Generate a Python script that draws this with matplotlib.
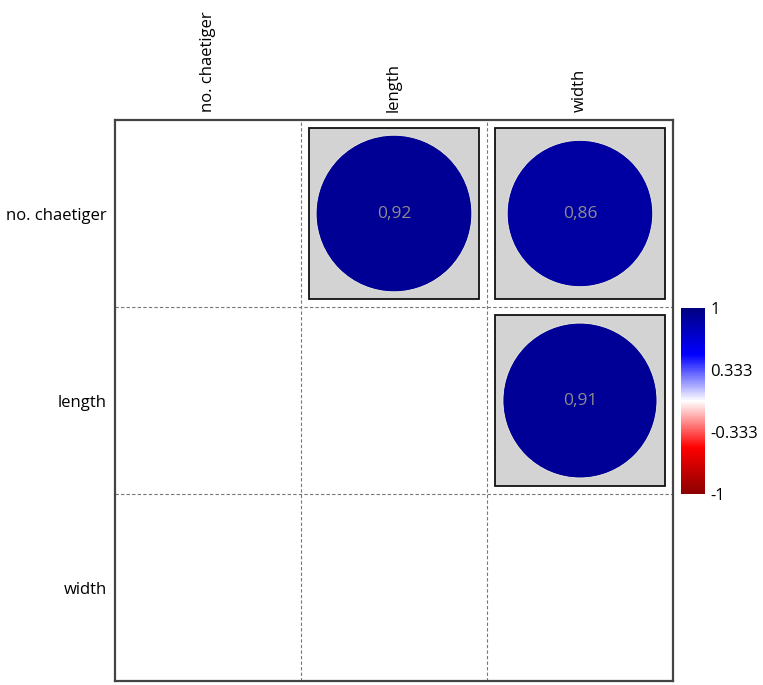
import numpy as np
import matplotlib.pyplot as plt
from matplotlib.colors import LinearSegmentedColormap, Normalize
from matplotlib.patches import Rectangle, Circle
from matplotlib.colorbar import ColorbarBase

plt.rcParams['font.family'] = ['Open Sans', 'DejaVu Sans']

# variables and correlations (upper triangle only)
variables = ['no. chaetiger', 'length', 'width']
pair_rows = [0, 0, 1]
pair_cols = [1, 2, 2]
pair_r = [0.92, 0.86, 0.91]
cbar_ticks = [1, 0.333, -0.333, -1]

cmap = LinearSegmentedColormap.from_list(
    'rwb', ['#8B0000', '#FF0000', '#FFFFFF', '#0000FF', '#000080'])
norm = Normalize(-1, 1)

fig = plt.figure(figsize=(7.63, 6.85), dpi=100)
ax = fig.add_axes([0.1507, 0.0058, 0.7313, 0.819])
n = len(variables)
ax.set_xlim(0, n)
ax.set_ylim(n, 0)

# dashed cell grid
for k in range(1, n):
    ax.axvline(k, color='#777777', ls=(0, (3, 2)), lw=0.8)
    ax.axhline(k, color='#777777', ls=(0, (3, 2)), lw=0.8)

pad = 0.045
for r, c, v in zip(pair_rows, pair_cols, pair_r):
    ax.add_patch(Rectangle((c + pad, r + pad), 1 - 2 * pad, 1 - 2 * pad,
                           facecolor='#D3D3D3', edgecolor='#111111', lw=1.3))
    rad = 0.5 * (1 - 2 * pad) * abs(v)
    ax.add_patch(Circle((c + 0.5, r + 0.5), rad, facecolor=cmap(norm(v)),
                        edgecolor='#EEEEDD', lw=0.6))
    ax.text(c + 0.5, r + 0.5, f'{v:.2f}'.replace('.', ','), ha='center',
            va='center', color='#8C8C8C', fontsize=12.5)

ax.set_xticks([i + 0.5 for i in range(n)])
ax.set_yticks([i + 0.5 for i in range(n)])
ax.xaxis.tick_top()
ax.set_xticklabels(variables, rotation=90, fontsize=12)
ax.set_yticklabels(variables, fontsize=12)
ax.tick_params(length=0, pad=6)
for s in ax.spines.values():
    s.set_color('#444444')
    s.set_linewidth(1.6)

cax = fig.add_axes([0.8925, 0.2788, 0.0315, 0.2715])
cb = ColorbarBase(cax, cmap=cmap, norm=norm, ticks=cbar_ticks)
cb.ax.set_yticklabels(['1', '0.333', '-0.333', '-1'], fontsize=12)
cb.ax.tick_params(length=0, pad=4)
cb.outline.set_visible(False)

fig.savefig('out.png', dpi=100)
